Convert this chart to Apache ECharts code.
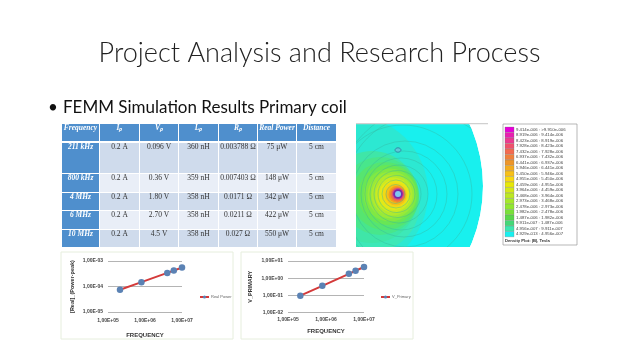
<!DOCTYPE html>
<html><head><meta charset="utf-8">
<style>html,body{margin:0;padding:0;background:#fff}#c{width:638px;height:359px}</style>
<script src="https://cdn.jsdelivr.net/npm/echarts@6/dist/echarts.min.js"></script></head>
<body><div id="c"></div>
<script>
const titleText = "Project Analysis and Research Process";
const bulletMark = "•";
const bulletText = "FEMM Simulation Results Primary coil";
const tableHeader = ["Frequency","Iₚ","Vₚ","Lₚ","Rₚ","Real Power","Distance"];
const tableRows = [
 ["211 kHz","0.2 A","0.096 V","360 nH","0.003788 Ω","75 μW","5 cm"],
 ["800 kHz","0.2 A","0.36 V","359 nH","0.007403 Ω","148 μW","5 cm"],
 ["4 MHz","0.2 A","1.80 V","358 nH","0.0171 Ω","342 μW","5 cm"],
 ["6 MHz","0.2 A","2.70 V","358 nH","0.0211 Ω","422 μW","5 cm"],
 ["10 MHz","0.2 A","4.5 V","358 nH","0.027 Ω","550 μW","5 cm"]
];
const frequency = [211000,800000,4000000,6000000,10000000];
const realPower = [0.000075,0.000148,0.000342,0.000422,0.00055];
const vPrimary = [0.096,0.36,1.8,2.7,4.5];
const legendLabels = ["9.414e-006 : >9.910e-006","8.919e-006 : 9.414e-006","8.423e-006 : 8.919e-006","7.928e-006 : 8.423e-006","7.432e-006 : 7.928e-006","6.937e-006 : 7.432e-006","6.441e-006 : 6.937e-006","5.946e-006 : 6.441e-006","5.450e-006 : 5.946e-006","4.955e-006 : 5.450e-006","4.459e-006 : 4.955e-006","3.964e-006 : 4.459e-006","3.468e-006 : 3.964e-006","2.973e-006 : 3.468e-006","2.478e-006 : 2.973e-006","1.982e-006 : 2.478e-006","1.487e-006 : 1.982e-006","9.911e-007 : 1.487e-006","4.956e-007 : 9.911e-007","4.929e-013 : 4.956e-007"];
const legendColors = ["#e600d8","#e81fb0","#ec3a90","#f0506c","#f46a50","#f0803c","#ee9628","#f4ac1c","#f8c018","#f8d810","#e8e808","#d4e818","#bce822","#a4e82a","#90e830","#78e038","#58d848","#44d878","#3ce8b0","#18f0f0"];
const colX = [62,100,140,179,219,258,297,337];
const rowY = [124,141,143,173,174,192,193,210,211,229,230,247];
const g = [];
const txt=(x,y,s,o)=>({type:'text',x,y,silent:true,style:Object.assign({text:s,fill:'#333',align:'center',verticalAlign:'middle',fontFamily:'Liberation Serif',fontSize:7.5},o||{})});
const rect=(x,y,w,h,fill,o)=>({type:'rect',silent:true,shape:{x,y,width:w,height:h},style:Object.assign({fill},o||{})});

// field plot
const fieldCircles=[
 [333,186,150,'#18f0ee'],
 [350,193,78,'#2ce8d2'],[370,203,50,'#3de8b8'],
 [372,197,46,'#3fe6a8'],[380,196,39,'#48e68c'],[385,196,34,'#56e570'],[388,195,30,'#68e655'],[390,195,26.5,'#80e844'],[391,195,23.5,'#98ea38'],[392,195,20.5,'#b0ea2e'],[393,195,17.5,'#cceb20'],[394,195,15,'#e4e818'],[395,195,12.5,'#f2da14'],[396,195,10.5,'#f6c016'],[397,194.5,8.5,'#f49c20'],[397.5,194.5,7.2,'#ee7640'],[398,194,6,'#d84a80'],[398,194,4.8,'#7a2aa8'],[398,194,3,'#7ec8f2']
];
fieldCircles.forEach(c=>g.push({type:'circle',silent:true,shape:{cx:c[0],cy:c[1],r:c[2]},style:{fill:c[3]}}));
[[395.5,194,9.5],[396,194,14],[396.5,194,18.5],[397.5,194,23.5],[399,194,29],[401,194,36],[404,194,43],[405,194,53],[403,194,69],[425,195,81],[445,215,115]].forEach(c=>{
 g.push({type:'circle',silent:true,shape:{cx:c[0],cy:c[1],r:c[2]},style:{fill:'none',stroke:'#35b8a0',lineWidth:0.7,opacity:0.6}});
});
g.push({type:'ellipse',silent:true,shape:{cx:398,cy:150,rx:3,ry:2.2},style:{fill:'#5fc8d8',stroke:'#2f8ea8',lineWidth:1}});
// masks around field
g.push({type:'circle',silent:true,shape:{cx:333,cy:186,r:200},style:{fill:'none',stroke:'#fff',lineWidth:100}});
g.push(rect(0,0,638,124,'#fff'),rect(0,247,638,112,'#fff'),rect(0,0,356,359,'#fff'),rect(488,0,150,359,'#fff'));
g.push(rect(356,123,132,1.2,'#d0d0d0'));

// field legend
g.push(rect(503,124,74,121,'#fff',{stroke:'#9a9a9a',lineWidth:0.7}));
legendLabels.forEach((s,i)=>{
 const y=127+i*5.5;
 g.push(rect(505,y,9,5.3,legendColors[i],{stroke:'#777',lineWidth:0.3}));
 g.push(txt(516,y+2.8,s,{align:'left',fontFamily:'Liberation Sans',fontSize:4.3,fill:'#444'}));
});
g.push(txt(505,241,"Density Plot: |B|, Tesla",{align:'left',fontFamily:'Liberation Sans',fontSize:4.2,fontWeight:'bold',fill:'#333'}));

// table
tableHeader.forEach((h,c)=>{
 const x=colX[c], w=colX[c+1]-x-1;
 g.push(rect(x,rowY[0],w,rowY[1]-rowY[0],'#4f8fcd'));
 g.push(txt(x+w/2,rowY[0]+4,h,{fill:'#fff',fontStyle:'italic',fontWeight:'bold'}));
});
tableRows.forEach((r,i)=>{
 const y0=rowY[2+i*2], y1=rowY[3+i*2];
 r.forEach((s,c)=>{
  const x=colX[c], w=colX[c+1]-x-1;
  const fill=c===0?'#4f8fcd':(i%2===0?'#cfdbec':'#e9eef7');
  g.push(rect(x,y0,w,y1-y0,fill));
  g.push(txt(x+w/2,y0+4,s,c===0?{fill:'#fff',fontStyle:'italic',fontWeight:'bold'}:{}));
 });
});

// text
g.push(txt(319.5,53,titleText,{fontFamily:'Lato',fontWeight:300,fontSize:27.1,fill:'#222'}));
g.push(txt(48,108,bulletMark,{align:'left',fontFamily:'Lato',fontSize:17,fill:'#111'}));
g.push(txt(63,108,bulletText,{align:'left',fontFamily:'Lato',fontSize:17,fill:'#111'}));
// chart frames
g.push(rect(61,252,172,87,'#fff',{stroke:'#e6eedd',lineWidth:1}));
g.push(rect(241,252,172,87,'#fff',{stroke:'#e6eedd',lineWidth:1}));

const expFmt=v=>{const e=Math.round(Math.log10(v));return '1,00E'+(e<0?'-':'+')+String(Math.abs(e)).padStart(2,'0');};
const axisFont={fontSize:5,fontWeight:'bold',color:'#444',fontFamily:'Liberation Sans'};
const xAx=(i)=>({type:'log',gridIndex:i,min:100000,max:10000000,logBase:10,name:'FREQUENCY',nameLocation:'middle',nameGap:i?16:20,nameTextStyle:{fontSize:6,fontWeight:'bold',color:'#333',fontFamily:'Liberation Sans'},axisLine:{show:false},axisTick:{show:false},splitLine:{show:false},minorSplitLine:{show:false},axisLabel:Object.assign({formatter:expFmt,margin:i?5:6},axisFont)});
const yAx=(i,min,max,name,gap)=>({type:'log',gridIndex:i,min,max,logBase:10,name,nameLocation:'middle',nameGap:gap,nameRotate:90,nameTextStyle:{fontSize:5.5,fontWeight:'bold',color:'#333',fontFamily:'Liberation Sans'},axisLine:{show:false},axisTick:{show:false},splitLine:{show:true,lineStyle:{color:'#b4b4b4',width:1.2}},axisLabel:Object.assign({formatter:expFmt,margin:5},axisFont)});
const ser=(name,i,vals)=>({name,type:'line',xAxisIndex:i,yAxisIndex:i,data:frequency.map((f,k)=>[f,vals[k]]),lineStyle:{color:'#d43a3a',width:2},itemStyle:{color:'#5b82b4'},symbol:'circle',symbolSize:6.5,z:5});
const leg=(name,left)=>({data:[name],left,top:295,itemWidth:9,itemHeight:4,itemGap:0,textStyle:{fontSize:4,color:'#666',fontFamily:'Liberation Sans',padding:[0,0,0,-3]},padding:0});

const chart=echarts.init(document.getElementById('c'),null,{renderer:'canvas'});
chart.setOption({
 animation:false,backgroundColor:'#fff',
 graphic:{elements:g.map(e=>Object.assign({z:0,zlevel:0},e))},
 grid:[{left:108,right:638-182,top:261,height:51},{left:288,right:638-364,top:261,height:51.6}],
 xAxis:[xAx(0),xAx(1)],
 yAxis:[yAx(0,0.00001,0.001,'[Real]_(Power-peak)',33),yAx(1,0.01,10,'V_PRIMARY',35)],
 legend:[leg('Real Power',199),leg('V_Primary',380)],
 series:[ser('Real Power',0,realPower),ser('V_Primary',1,vPrimary)]
});
</script></body></html>
